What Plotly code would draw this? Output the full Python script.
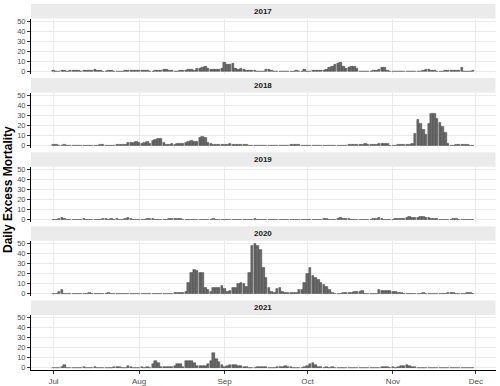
import plotly.graph_objects as go
import pandas as pd


# 每年 7月1日 - 11月30日 的每日超额死亡人数 (按月拼接)
y2017 = (
    [1, 0, 0, 0.5, 0.5, 0, 1, 1, 1, 1, 0, 1, 1, 1, 1, 1.5, 1, 1, 0, 0, 0.5, 0.5, 0, 0, 0, 0, 0.5, 0.5, 0.5, 0.5, 0.5]
    + [0.5, 1, 0.5, 0.5, 0, 0, 1, 1, 1, 1.5, 1.5, 1, 0.5, 0, 0, 1, 1, 1, 2, 1.5, 1, 3, 3, 4, 5, 3, 2, 2, 2, 2, 3]
    + [9, 7, 7, 8, 3, 2, 3, 2, 1, 1, 0.5, 0.5, 0, 0, 0, 2, 2, 0.5, 0, 0, 0, 0, 0, 0, 0, 0, 0.5, 0, 0, 2]
    + [0, 0, 0.5, 0.5, 0.5, 0.5, 1, 2, 4, 5, 7, 8, 9, 5, 3, 4, 5, 5, 3, 0, 0, 0, 0, 0, 0.5, 1, 2, 4, 4, 1, 0]
    + [0, 0, 0, 0, 0, 0, 0, 0, 0, 0, 0, 1, 2, 1.5, 1, 0.5, 0, 0, 0, 1, 0.5, 0.5, 0.5, 1, 1, 4, 0, 0, 0, 0.5]
)

y2018 = (
    [0.5, 0.5, 0, 0, 1, 0, 0, 0, 0, 0, 0, 0, 0, 0, 0, 0, 0, 0.3, 0.3, 0, 0, 0, 0, 0.5, 0.5, 1, 1, 3, 3, 3, 4]
    + [3, 2, 3, 4, 2, 5, 6, 7, 7, 3, 1, 0.5, 2, 1, 2, 2, 2, 3, 4, 5, 4, 4, 8, 9, 8, 3, 2, 1, 0.5, 1, 1]
    + [1, 1, 1.5, 1, 0.3, 1, 1, 1, 0.5, 0, 0, 0, 0, 0, 0, 0, 0, 0, 0, 0, 0, 0, 0, 0, 1, 1, 1, 1, 0, 0]
    + [0, 0, 0, 0, 0, 0, 0, 0, 0, 0, 0, 0, 0, 0, 0, 0.5, 0.5, 0.5, 1, 1, 1, 1.5, 1, 1, 1, 1, 1.5, 2, 2, 1.5, 0]
    + [0, 0, 0.5, 0.5, 0.5, 0.5, 0.5, 2, 12, 26, 22, 16, 11, 22, 32, 32, 27, 23, 19, 13, 2, 0, 0, 0.5, 0.5, 0.5, 0.5, 0.5, 0, 0]
)

y2019 = (
    [0, 0, 0.5, 2, 0.5, 0, 0, 0, 0, 0, 0, 0.3, 0, 0, 0, 0, 0, 0, 0.3, 0.3, 0, 0.3, 0, 0.3, 0, 0, 0.5, 1.5, 0.5, 0, 0]
    + [0, 0, 0, 0.3, 0.3, 0.3, 0, 0, 0, 0, 0, 0.5, 1, 1, 0.5, 0.5, 0, 0, 0, 0, 0, 0, 0, 0, 0, 0, 0, 0.3, 0, 0, 0]
    + [0, 0, 0, 0, 0, 0, 0, 0, 0, 0, 0, 0.3, 0, 0, 0, 0, 0, 0, 0, 0, 0, 0, 0, 0, 0, 0, 0, 0, 0, 0]
    + [0, 0, 0, 0, 0, 0, 0.3, 0.3, 0, 0, 0, 1, 1.5, 1, 1, 0.5, 0, 0, 0, 0, 0, 0, 0, 0, 1, 1, 1.5, 0.5, 0, 0, 0]
    + [0, 0.5, 1, 1, 1, 2, 3, 2, 2, 2, 3, 3, 2, 1.5, 1, 0.5, 0.5, 0, 0, 0, 0, 0, 0.3, 0.3, 0, 0, 0, 0, 0, 0]
)

y2020 = (
    [0, 0, 2, 4, 0, 0, 0, 0, 0, 0, 0, 0, 0, 0.3, 0, 0, 0, 0, 0, 0, 0.2, 0, 0, 0, 0, 0, 0, 0, 0, 0, 0]
    + [0, 0, 0, 0, 0, 0, 0, 0, 0, 0, 0, 0, 0, 0.5, 0.5, 0.5, 1, 2, 11, 21, 24, 23, 21, 21, 6, 4, 2, 6, 6, 6, 8]
    + [5, 2, 3, 6, 6, 10, 11, 10, 7, 21, 48, 50, 48, 44, 26, 16, 6, 2, 1, 5, 6, 2, 1, 1, 1, 1, 1, 4, 4, 11]
    + [20, 26, 18, 16, 14, 11, 9, 7, 4, 1, 0, 0, 0, 0.5, 1, 0.5, 1, 2, 1.5, 2, 3, 0, 0, 0, 0, 0, 4, 3, 3, 3, 3]
    + [2, 2, 1, 0.5, 0, 0, 0, 0, 0, 0, 0, 0.3, 0, 0, 0, 0, 0, 0, 0, 0, 0.5, 1, 0.5, 0, 0, 0, 0, 0.3, 0.3, 0]
)

y2021 = (
    [0, 0, 0, 0.5, 2.5, 0, 0, 0, 0, 0, 0, 0.2, 0, 0, 0, 0.2, 0, 0, 0, 0, 0, 0, 0.5, 0.5, 0.5, 0, 0, 2, 0.5, 0, 0]
    + [0, 0.2, 0, 0.2, 0, 4, 7, 5, 1, 0.5, 0.5, 0.5, 1, 2, 4, 4, 1, 7, 7, 7, 5, 2, 2, 2, 2, 4, 7, 15, 9, 6, 3]
    + [1, 2, 3, 3, 3, 2, 2, 1, 0.5, 0, 0, 0, 1, 1, 1, 1, 0, 0, 0, 0.5, 1, 1, 1.5, 1, 0.5, 0, 0, 0, 0, 1]
    + [2, 4, 5, 3, 1, 0.3, 0, 0.3, 0, 0.3, 0, 0, 0, 0, 0, 0, 0, 0, 0, 0, 0, 0, 0, 0, 0, 0, 0, 1, 1, 1, 0]
    + [0.5, 0, 0.5, 1.5, 2, 3, 2, 1, 0.5, 0, 0, 0, 0, 0, 0, 0, 0, 0, 0, 0, 0, 0, 0, 0, 0, 0, 0, 0, 0, 0]
)

years = ['2017', '2018', '2019', '2020', '2021']
series = [y2017, y2018, y2019, y2020, y2021]

month_ticks = ['2021-07-01', '2021-08-01', '2021-09-01', '2021-10-01', '2021-11-01', '2021-12-01']
month_labels = ['Jul', 'Aug', 'Sep', 'Oct', 'Nov', 'Dec']

# 横轴用同一个年份的日期
days = pd.date_range('2021-07-01', '2021-11-30', freq='D')

W, H = 500, 386
left, right = 31, 495.5
panel_h = 55
strip_h = 14.5
first_top = 18.5
step = 74.1

fig = go.Figure()
font = 'Liberation Sans, Arial, sans-serif'

for i, (yr, vals) in enumerate(zip(years, series)):
    ax = '' if i == 0 else str(i + 1)
    top = first_top + step * i
    bottom = top + panel_h
    last = (i == len(years) - 1)

    fig.add_trace(
        go.Bar(
            x=days,
            y=vals,
            xaxis='x' + ax,
            yaxis='y' + ax,
            width=86400000 * 0.92,
            marker=dict(color='#6a6a6a', line=dict(color='#333333', width=0.4)),
            showlegend=False
        )
    )

    fig.update_layout(**{
        'xaxis' + ax: dict(
            domain=[left / W, right / W],
            anchor='y' + ax,
            type='date',
            range=['2021-06-22 20:24', '2021-12-08 03:36'],
            tickvals=month_ticks,
            ticktext=month_labels,
            showticklabels=last,
            ticks='outside' if last else '',
            ticklen=3,
            tickcolor='#333333',
            tickfont=dict(size=8, color='#4d4d4d'),
            showline=last,
            linecolor='black',
            linewidth=1,
            showgrid=True,
            gridcolor='#ebebeb',
            gridwidth=1,
            zeroline=False,
            automargin=False
        ),
        'yaxis' + ax: dict(
            domain=[1 - bottom / H, 1 - top / H],
            anchor='x' + ax,
            range=[-2.5, 52.5],
            tickvals=[0, 10, 20, 30, 40, 50],
            ticks='outside',
            ticklen=3,
            tickcolor='#333333',
            tickfont=dict(size=7.5, color='#4d4d4d'),
            showline=True,
            linecolor='black',
            linewidth=1,
            showgrid=True,
            gridcolor='#ebebeb',
            gridwidth=1,
            zeroline=False,
            automargin=False
        )
    })

    # 分面标题条
    fig.add_shape(
        type='rect', xref='paper', yref='paper',
        x0=left / W, x1=right / W,
        y0=1 - top / H, y1=1 - (top - strip_h) / H,
        fillcolor='#ebebeb', line=dict(width=0), layer='below'
    )
    fig.add_annotation(
        text='<b>' + yr + '</b>', xref='paper', yref='paper',
        x=(left + right) / 2 / W, y=1 - (top - strip_h / 2) / H,
        xanchor='center', yanchor='middle', showarrow=False,
        font=dict(size=8, color='#1a1a1a')
    )

fig.add_annotation(
    text='<b>Daily Excess Mortality</b>', xref='paper', yref='paper',
    x=8 / W, y=1 - 190 / H, textangle=-90,
    xanchor='center', yanchor='middle', showarrow=False,
    font=dict(size=12, color='black')
)

fig.update_layout(
    width=W,
    height=H,
    autosize=False,
    margin=dict(l=0, r=0, t=0, b=0),
    paper_bgcolor='white',
    plot_bgcolor='white',
    font=dict(family=font),
    bargap=0
)

# 去掉页面默认的 body 边距, 让图从左上角开始
fig.write_html('out.html', config={'displayModeBar': False},
               post_script="document.body.style.margin='0';")
